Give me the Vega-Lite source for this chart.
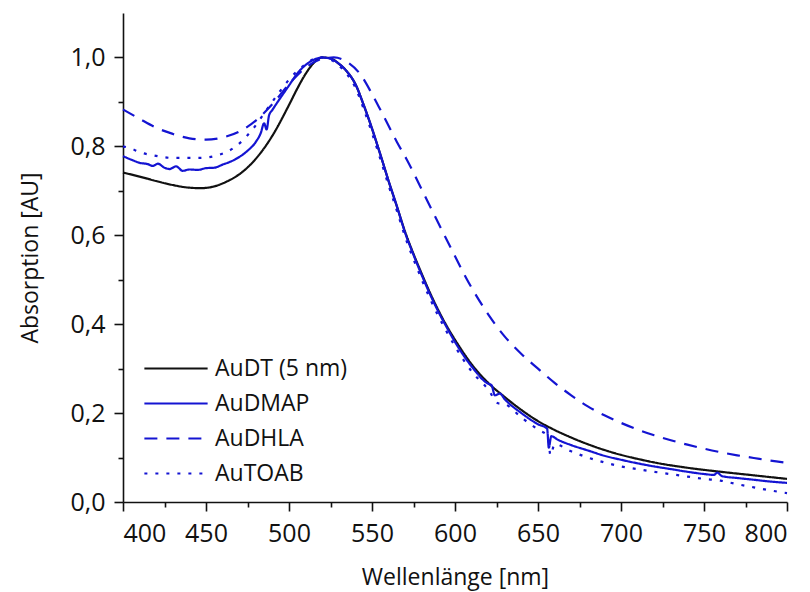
{
  "$schema": "https://vega.github.io/schema/vega-lite/v6.json",
  "width": 664,
  "height": 489,
  "autosize": {"type": "none"},
  "padding": {"left": 123, "top": 13, "right": 23, "bottom": 90},
  "background": "white",
  "config": {
    "view": {"stroke": null},
    "font": "Open Sans",
    "axis": {"labelFont": "Open Sans", "titleFont": "Open Sans", "labelColor": "#111", "titleColor": "#111", "domainColor": "#111", "tickColor": "#111", "domainWidth": 1.6, "tickWidth": 1.6, "grid": false, "labelFontSize": 25, "titleFontSize": 23, "titleFontWeight": "normal"},
    "legend": {"labelFont": "Open Sans", "labelFontSize": 23, "labelColor": "#111"}
  },
  "resolve": {"axis": {"x": "independent", "y": "independent"}},
  "layer": [
    {
      "data": {
        "values": [
          {"s": "AuDT (5 nm)", "x": 400, "y": 0.741},
          {"s": "AuDT (5 nm)", "x": 410, "y": 0.732},
          {"s": "AuDT (5 nm)", "x": 420, "y": 0.722},
          {"s": "AuDT (5 nm)", "x": 430, "y": 0.713},
          {"s": "AuDT (5 nm)", "x": 440, "y": 0.707},
          {"s": "AuDT (5 nm)", "x": 447, "y": 0.706},
          {"s": "AuDT (5 nm)", "x": 455, "y": 0.71},
          {"s": "AuDT (5 nm)", "x": 462, "y": 0.72},
          {"s": "AuDT (5 nm)", "x": 470, "y": 0.737},
          {"s": "AuDT (5 nm)", "x": 480, "y": 0.772},
          {"s": "AuDT (5 nm)", "x": 490, "y": 0.824},
          {"s": "AuDT (5 nm)", "x": 500, "y": 0.893},
          {"s": "AuDT (5 nm)", "x": 505, "y": 0.93},
          {"s": "AuDT (5 nm)", "x": 510, "y": 0.963},
          {"s": "AuDT (5 nm)", "x": 515, "y": 0.988},
          {"s": "AuDT (5 nm)", "x": 520, "y": 1.0},
          {"s": "AuDT (5 nm)", "x": 525, "y": 0.998},
          {"s": "AuDT (5 nm)", "x": 530, "y": 0.986},
          {"s": "AuDT (5 nm)", "x": 535, "y": 0.968},
          {"s": "AuDT (5 nm)", "x": 540, "y": 0.94},
          {"s": "AuDT (5 nm)", "x": 545, "y": 0.893},
          {"s": "AuDT (5 nm)", "x": 550, "y": 0.84},
          {"s": "AuDT (5 nm)", "x": 555, "y": 0.782},
          {"s": "AuDT (5 nm)", "x": 560, "y": 0.722},
          {"s": "AuDT (5 nm)", "x": 565, "y": 0.665},
          {"s": "AuDT (5 nm)", "x": 570, "y": 0.607},
          {"s": "AuDT (5 nm)", "x": 575, "y": 0.558},
          {"s": "AuDT (5 nm)", "x": 580, "y": 0.513},
          {"s": "AuDT (5 nm)", "x": 585, "y": 0.47},
          {"s": "AuDT (5 nm)", "x": 590, "y": 0.431},
          {"s": "AuDT (5 nm)", "x": 595, "y": 0.396},
          {"s": "AuDT (5 nm)", "x": 600, "y": 0.365},
          {"s": "AuDT (5 nm)", "x": 610, "y": 0.31},
          {"s": "AuDT (5 nm)", "x": 620, "y": 0.268},
          {"s": "AuDT (5 nm)", "x": 630, "y": 0.236},
          {"s": "AuDT (5 nm)", "x": 640, "y": 0.207},
          {"s": "AuDT (5 nm)", "x": 650, "y": 0.182},
          {"s": "AuDT (5 nm)", "x": 660, "y": 0.162},
          {"s": "AuDT (5 nm)", "x": 670, "y": 0.145},
          {"s": "AuDT (5 nm)", "x": 680, "y": 0.13},
          {"s": "AuDT (5 nm)", "x": 690, "y": 0.117},
          {"s": "AuDT (5 nm)", "x": 700, "y": 0.106},
          {"s": "AuDT (5 nm)", "x": 710, "y": 0.097},
          {"s": "AuDT (5 nm)", "x": 720, "y": 0.089},
          {"s": "AuDT (5 nm)", "x": 740, "y": 0.077},
          {"s": "AuDT (5 nm)", "x": 760, "y": 0.068},
          {"s": "AuDT (5 nm)", "x": 780, "y": 0.06},
          {"s": "AuDT (5 nm)", "x": 800, "y": 0.052},

          {"s": "AuDMAP", "x": 400, "y": 0.778},
          {"s": "AuDMAP", "x": 405, "y": 0.77},
          {"s": "AuDMAP", "x": 410, "y": 0.763},
          {"s": "AuDMAP", "x": 415, "y": 0.76},
          {"s": "AuDMAP", "x": 418, "y": 0.756},
          {"s": "AuDMAP", "x": 421, "y": 0.761},
          {"s": "AuDMAP", "x": 425, "y": 0.752},
          {"s": "AuDMAP", "x": 428, "y": 0.749},
          {"s": "AuDMAP", "x": 432, "y": 0.755},
          {"s": "AuDMAP", "x": 436, "y": 0.745},
          {"s": "AuDMAP", "x": 440, "y": 0.748},
          {"s": "AuDMAP", "x": 445, "y": 0.747},
          {"s": "AuDMAP", "x": 450, "y": 0.751},
          {"s": "AuDMAP", "x": 455, "y": 0.752},
          {"s": "AuDMAP", "x": 460, "y": 0.759},
          {"s": "AuDMAP", "x": 465, "y": 0.766},
          {"s": "AuDMAP", "x": 470, "y": 0.776},
          {"s": "AuDMAP", "x": 475, "y": 0.79},
          {"s": "AuDMAP", "x": 480, "y": 0.81},
          {"s": "AuDMAP", "x": 483, "y": 0.83},
          {"s": "AuDMAP", "x": 485, "y": 0.852},
          {"s": "AuDMAP", "x": 486.5, "y": 0.838},
          {"s": "AuDMAP", "x": 488, "y": 0.87},
          {"s": "AuDMAP", "x": 490, "y": 0.882},
          {"s": "AuDMAP", "x": 495, "y": 0.91},
          {"s": "AuDMAP", "x": 500, "y": 0.937},
          {"s": "AuDMAP", "x": 505, "y": 0.964},
          {"s": "AuDMAP", "x": 510, "y": 0.983},
          {"s": "AuDMAP", "x": 515, "y": 0.995},
          {"s": "AuDMAP", "x": 520, "y": 1.0},
          {"s": "AuDMAP", "x": 525, "y": 0.997},
          {"s": "AuDMAP", "x": 530, "y": 0.986},
          {"s": "AuDMAP", "x": 535, "y": 0.968},
          {"s": "AuDMAP", "x": 540, "y": 0.94},
          {"s": "AuDMAP", "x": 545, "y": 0.893},
          {"s": "AuDMAP", "x": 550, "y": 0.84},
          {"s": "AuDMAP", "x": 555, "y": 0.782},
          {"s": "AuDMAP", "x": 560, "y": 0.722},
          {"s": "AuDMAP", "x": 565, "y": 0.665},
          {"s": "AuDMAP", "x": 570, "y": 0.605},
          {"s": "AuDMAP", "x": 575, "y": 0.556},
          {"s": "AuDMAP", "x": 580, "y": 0.51},
          {"s": "AuDMAP", "x": 585, "y": 0.467},
          {"s": "AuDMAP", "x": 590, "y": 0.428},
          {"s": "AuDMAP", "x": 595, "y": 0.393},
          {"s": "AuDMAP", "x": 600, "y": 0.36},
          {"s": "AuDMAP", "x": 610, "y": 0.305},
          {"s": "AuDMAP", "x": 620, "y": 0.266},
          {"s": "AuDMAP", "x": 622, "y": 0.263},
          {"s": "AuDMAP", "x": 624, "y": 0.24},
          {"s": "AuDMAP", "x": 627, "y": 0.244},
          {"s": "AuDMAP", "x": 630, "y": 0.231},
          {"s": "AuDMAP", "x": 640, "y": 0.2},
          {"s": "AuDMAP", "x": 650, "y": 0.175},
          {"s": "AuDMAP", "x": 655.5, "y": 0.165},
          {"s": "AuDMAP", "x": 656.5, "y": 0.122},
          {"s": "AuDMAP", "x": 658, "y": 0.148},
          {"s": "AuDMAP", "x": 662, "y": 0.14},
          {"s": "AuDMAP", "x": 670, "y": 0.128},
          {"s": "AuDMAP", "x": 680, "y": 0.116},
          {"s": "AuDMAP", "x": 690, "y": 0.104},
          {"s": "AuDMAP", "x": 700, "y": 0.095},
          {"s": "AuDMAP", "x": 710, "y": 0.087},
          {"s": "AuDMAP", "x": 720, "y": 0.08},
          {"s": "AuDMAP", "x": 730, "y": 0.074},
          {"s": "AuDMAP", "x": 740, "y": 0.068},
          {"s": "AuDMAP", "x": 750, "y": 0.063},
          {"s": "AuDMAP", "x": 756, "y": 0.061},
          {"s": "AuDMAP", "x": 758, "y": 0.066},
          {"s": "AuDMAP", "x": 761, "y": 0.058},
          {"s": "AuDMAP", "x": 770, "y": 0.054},
          {"s": "AuDMAP", "x": 780, "y": 0.05},
          {"s": "AuDMAP", "x": 790, "y": 0.046},
          {"s": "AuDMAP", "x": 800, "y": 0.043},

          {"s": "AuDHLA", "x": 400, "y": 0.883},
          {"s": "AuDHLA", "x": 410, "y": 0.862},
          {"s": "AuDHLA", "x": 420, "y": 0.842},
          {"s": "AuDHLA", "x": 430, "y": 0.828},
          {"s": "AuDHLA", "x": 440, "y": 0.818},
          {"s": "AuDHLA", "x": 450, "y": 0.815},
          {"s": "AuDHLA", "x": 460, "y": 0.82},
          {"s": "AuDHLA", "x": 470, "y": 0.833},
          {"s": "AuDHLA", "x": 480, "y": 0.858},
          {"s": "AuDHLA", "x": 490, "y": 0.895},
          {"s": "AuDHLA", "x": 500, "y": 0.94},
          {"s": "AuDHLA", "x": 510, "y": 0.977},
          {"s": "AuDHLA", "x": 520, "y": 0.997},
          {"s": "AuDHLA", "x": 527, "y": 1.0},
          {"s": "AuDHLA", "x": 535, "y": 0.99},
          {"s": "AuDHLA", "x": 543, "y": 0.962},
          {"s": "AuDHLA", "x": 550, "y": 0.918},
          {"s": "AuDHLA", "x": 557, "y": 0.868},
          {"s": "AuDHLA", "x": 565, "y": 0.81},
          {"s": "AuDHLA", "x": 571, "y": 0.77},
          {"s": "AuDHLA", "x": 583, "y": 0.68},
          {"s": "AuDHLA", "x": 595, "y": 0.59},
          {"s": "AuDHLA", "x": 610, "y": 0.482},
          {"s": "AuDHLA", "x": 620, "y": 0.422},
          {"s": "AuDHLA", "x": 630, "y": 0.372},
          {"s": "AuDHLA", "x": 640, "y": 0.333},
          {"s": "AuDHLA", "x": 650, "y": 0.3},
          {"s": "AuDHLA", "x": 660, "y": 0.268},
          {"s": "AuDHLA", "x": 670, "y": 0.24},
          {"s": "AuDHLA", "x": 680, "y": 0.215},
          {"s": "AuDHLA", "x": 690, "y": 0.195},
          {"s": "AuDHLA", "x": 700, "y": 0.178},
          {"s": "AuDHLA", "x": 710, "y": 0.163},
          {"s": "AuDHLA", "x": 720, "y": 0.15},
          {"s": "AuDHLA", "x": 730, "y": 0.139},
          {"s": "AuDHLA", "x": 740, "y": 0.129},
          {"s": "AuDHLA", "x": 750, "y": 0.12},
          {"s": "AuDHLA", "x": 760, "y": 0.112},
          {"s": "AuDHLA", "x": 770, "y": 0.105},
          {"s": "AuDHLA", "x": 780, "y": 0.099},
          {"s": "AuDHLA", "x": 790, "y": 0.093},
          {"s": "AuDHLA", "x": 800, "y": 0.088},

          {"s": "AuTOAB", "x": 400, "y": 0.8},
          {"s": "AuTOAB", "x": 405, "y": 0.795},
          {"s": "AuTOAB", "x": 410, "y": 0.787},
          {"s": "AuTOAB", "x": 418, "y": 0.78},
          {"s": "AuTOAB", "x": 430, "y": 0.774},
          {"s": "AuTOAB", "x": 446, "y": 0.774},
          {"s": "AuTOAB", "x": 458, "y": 0.781},
          {"s": "AuTOAB", "x": 468, "y": 0.8},
          {"s": "AuTOAB", "x": 478, "y": 0.838},
          {"s": "AuTOAB", "x": 488, "y": 0.89},
          {"s": "AuTOAB", "x": 495, "y": 0.926},
          {"s": "AuTOAB", "x": 500, "y": 0.95},
          {"s": "AuTOAB", "x": 510, "y": 0.985},
          {"s": "AuTOAB", "x": 518, "y": 1.0},
          {"s": "AuTOAB", "x": 525, "y": 0.995},
          {"s": "AuTOAB", "x": 530, "y": 0.982},
          {"s": "AuTOAB", "x": 535, "y": 0.962},
          {"s": "AuTOAB", "x": 540, "y": 0.932},
          {"s": "AuTOAB", "x": 545, "y": 0.884},
          {"s": "AuTOAB", "x": 550, "y": 0.83},
          {"s": "AuTOAB", "x": 555, "y": 0.772},
          {"s": "AuTOAB", "x": 560, "y": 0.712},
          {"s": "AuTOAB", "x": 565, "y": 0.655},
          {"s": "AuTOAB", "x": 570, "y": 0.596},
          {"s": "AuTOAB", "x": 575, "y": 0.546},
          {"s": "AuTOAB", "x": 580, "y": 0.5},
          {"s": "AuTOAB", "x": 585, "y": 0.457},
          {"s": "AuTOAB", "x": 590, "y": 0.418},
          {"s": "AuTOAB", "x": 595, "y": 0.383},
          {"s": "AuTOAB", "x": 600, "y": 0.35},
          {"s": "AuTOAB", "x": 610, "y": 0.294},
          {"s": "AuTOAB", "x": 620, "y": 0.253},
          {"s": "AuTOAB", "x": 626, "y": 0.222},
          {"s": "AuTOAB", "x": 630, "y": 0.22},
          {"s": "AuTOAB", "x": 640, "y": 0.19},
          {"s": "AuTOAB", "x": 650, "y": 0.163},
          {"s": "AuTOAB", "x": 656, "y": 0.148},
          {"s": "AuTOAB", "x": 657.5, "y": 0.105},
          {"s": "AuTOAB", "x": 660, "y": 0.13},
          {"s": "AuTOAB", "x": 670, "y": 0.114},
          {"s": "AuTOAB", "x": 680, "y": 0.1},
          {"s": "AuTOAB", "x": 690, "y": 0.089},
          {"s": "AuTOAB", "x": 700, "y": 0.08},
          {"s": "AuTOAB", "x": 710, "y": 0.074},
          {"s": "AuTOAB", "x": 720, "y": 0.068},
          {"s": "AuTOAB", "x": 735, "y": 0.06},
          {"s": "AuTOAB", "x": 750, "y": 0.052},
          {"s": "AuTOAB", "x": 760, "y": 0.048},
          {"s": "AuTOAB", "x": 770, "y": 0.04},
          {"s": "AuTOAB", "x": 780, "y": 0.033},
          {"s": "AuTOAB", "x": 790, "y": 0.026},
          {"s": "AuTOAB", "x": 800, "y": 0.02}
        ]
      },
      "mark": {"type": "line", "interpolate": "monotone", "strokeWidth": 2.2},
      "encoding": {
        "x": {
          "field": "x", "type": "quantitative",
          "scale": {"domain": [400, 800], "nice": false},
          "axis": {
            "orient": "bottom",
            "title": "Wellenlänge [nm]",
            "values": [400, 450, 500, 550, 600, 650, 700, 750, 800],
            "format": "d",
            "tickSize": 9,
            "labelPadding": 10,
            "titlePadding": 20
          }
        },
        "y": {
          "field": "y", "type": "quantitative",
          "scale": {"domain": [0, 1.1], "nice": false, "zero": true},
          "axis": {
            "orient": "left",
            "title": "Absorption [AU]",
            "values": [0, 0.2, 0.4, 0.6, 0.8, 1.0],
            "labelExpr": "replace(format(datum.value, '.1f'), '.', ',')",
            "tickSize": 9,
            "labelPadding": 9,
            "titlePadding": 27
          }
        },
        "color": {
          "field": "s", "type": "nominal",
          "scale": {"domain": ["AuDT (5 nm)", "AuDMAP", "AuDHLA", "AuTOAB"], "range": ["#111111", "#1414d2", "#1414d2", "#1414d2"]},
          "legend": {
            "title": null, "orient": "none", "legendX": 20, "legendY": 338,
            "symbolType": "stroke", "symbolSize": 4000, "symbolStrokeWidth": 2.2,
            "labelOffset": 6, "rowPadding": 0, "clipHeight": 35
          }
        },
        "strokeDash": {
          "field": "s", "type": "nominal",
          "scale": {"domain": ["AuDT (5 nm)", "AuDMAP", "AuDHLA", "AuTOAB"], "range": [[1, 0], [1, 0], [13, 9], [3, 8]]},
          "legend": null
        }
      }
    },
    {
      "data": {"values": []},
      "mark": {"type": "line"},
      "encoding": {
        "x": {
          "field": "x", "type": "quantitative",
          "axis": {"orient": "bottom", "title": null, "values": [425, 475, 525, 575, 625, 675, 725, 775], "labels": false, "domain": false, "tickSize": 5}
        },
        "y": {
          "field": "y", "type": "quantitative",
          "axis": {"orient": "left", "title": null, "values": [0.1, 0.3, 0.5, 0.7, 0.9], "labels": false, "domain": false, "tickSize": 5}
        }
      }
    }
  ]
}
